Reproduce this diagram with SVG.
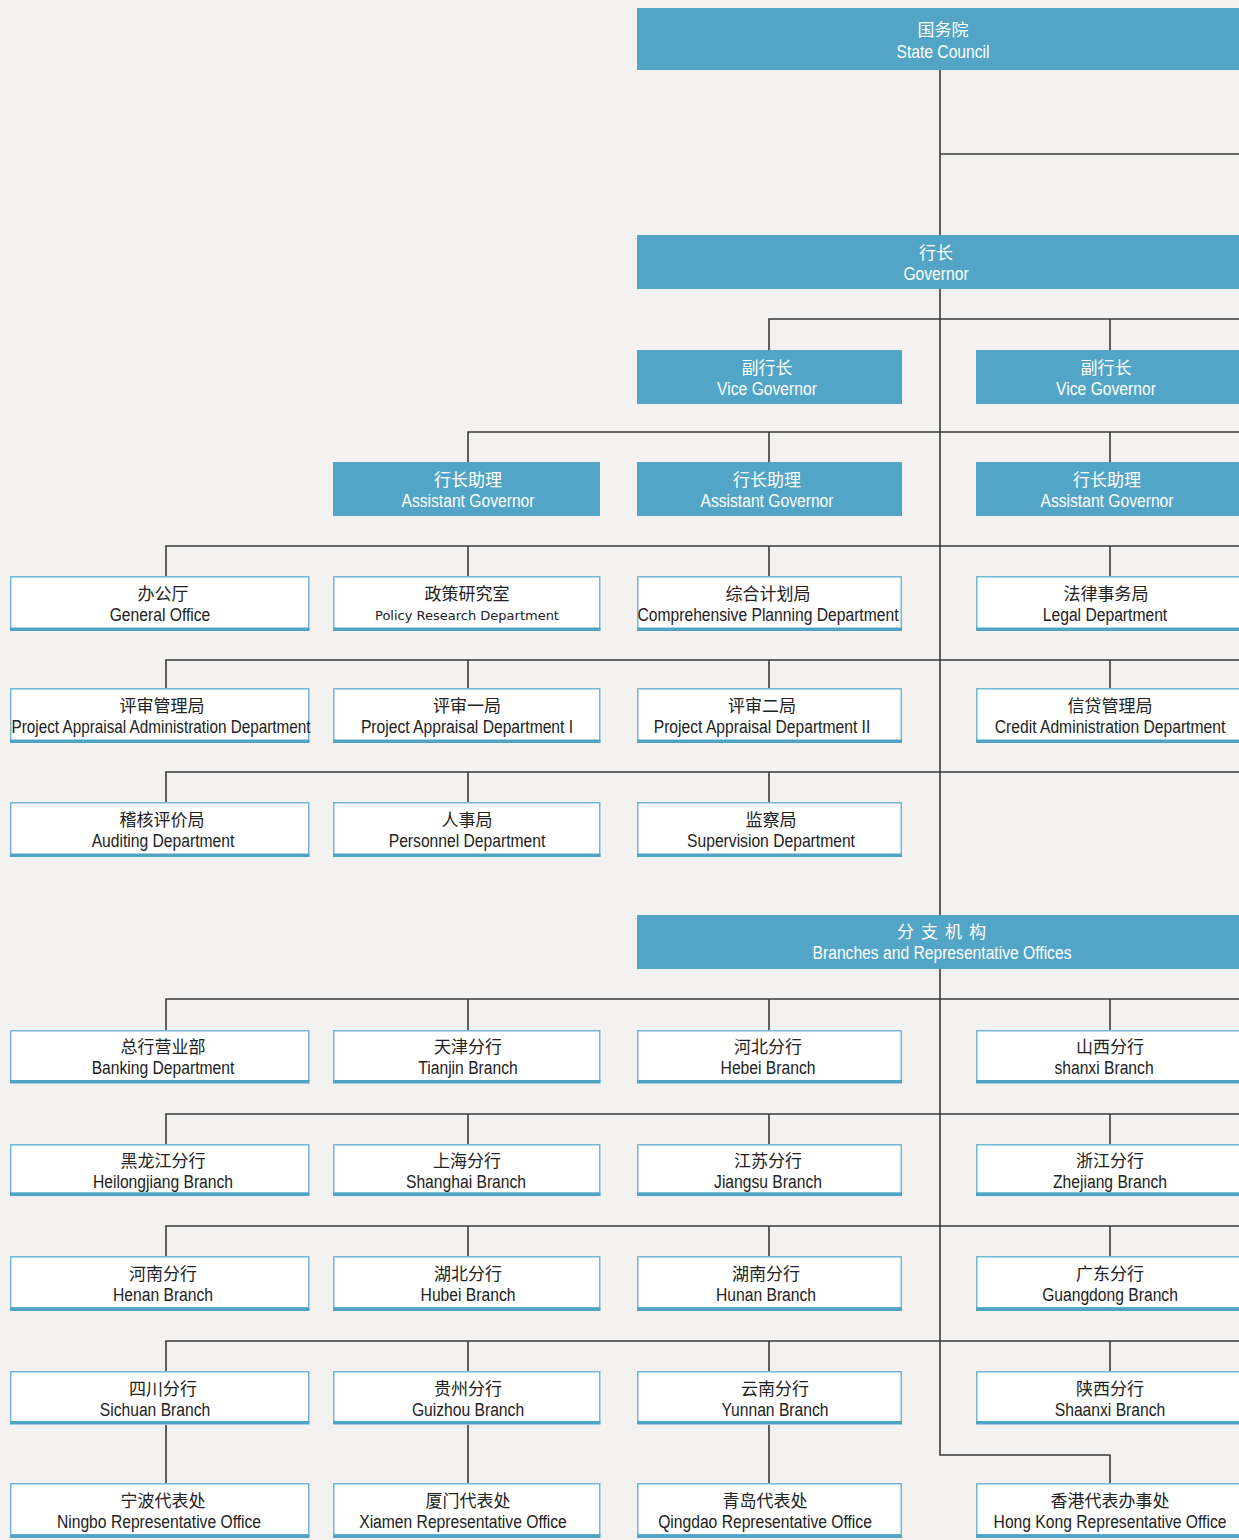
<svg xmlns="http://www.w3.org/2000/svg" width="1239" height="1540" viewBox="0 0 1239 1540">
<style>
.bg{fill:#f3f2f0}
.blue{fill:#52a5c6}
.wbox{fill:#ffffff;stroke:#72b8d6;stroke-width:1.5}
.bar{fill:#4fa3c4}
.cn{font-family:"Noto Sans CJK SC","Noto Sans",sans-serif;font-size:17px;text-anchor:middle}
.en{font-family:"Liberation Sans",Arial,sans-serif;font-size:18px;text-anchor:middle}
.sm{font-family:"DejaVu Sans",sans-serif;font-size:13px;text-anchor:middle}
.dk{fill:#222222}
.wt{fill:#ffffff}
.ln{fill:none;stroke:#3a3a3a;stroke-width:1.6}
</style>
<rect class="bg" x="0" y="0" width="1239" height="1540"/>

<g id="connectors">
<path class="ln" d="M940,70 V1455 H1110 V1483"/>
<path class="ln" d="M940,154 H1245"/>
<path class="ln" d="M769,350 V319 H1245 M1110,319 V350"/>
<path class="ln" d="M468,462 V432 H1245 M769,432 V462 M1110,432 V462"/>
<path class="ln" d="M166,576 V546 H1245 M468,546 V576 M769,546 V576 M1110,546 V576"/>
<path class="ln" d="M166,688 V660 H1245 M468,660 V688 M769,660 V688 M1110,660 V688"/>
<path class="ln" d="M166,802 V772 H1245 M468,772 V802 M769,772 V802"/>
<path class="ln" d="M166,1030 V999 H1245 M468,999 V1030 M769,999 V1030 M1110,999 V1030"/>
<path class="ln" d="M166,1144 V1114 H1245 M468,1114 V1144 M769,1114 V1144 M1110,1114 V1144"/>
<path class="ln" d="M166,1256 V1226 H1245 M468,1226 V1256 M769,1226 V1256 M1110,1226 V1256"/>
<path class="ln" d="M166,1371 V1341 H1245 M468,1341 V1371 M769,1341 V1371 M1110,1341 V1371"/>
<path class="ln" d="M166,1425 V1483 M468,1425 V1483 M769,1425 V1483"/>
</g>

<g id="state-council">
<rect class="blue" x="637" y="8" width="620" height="62"/>
<text class="cn wt" x="943" y="36">国务院</text>
<text class="en wt" transform="translate(943,58) scale(0.87,1)">State Council</text>
</g>
<g id="governor">
<rect class="blue" x="637" y="235" width="620" height="54"/>
<text class="cn wt" x="936" y="259">行长</text>
<text class="en wt" transform="translate(936,280) scale(0.87,1)">Governor</text>
</g>
<g id="vice-governor-1">
<rect class="blue" x="637" y="350" width="265" height="54"/>
<text class="cn wt" x="767" y="374">副行长</text>
<text class="en wt" transform="translate(767,395) scale(0.87,1)">Vice Governor</text>
</g>
<g id="vice-governor-2">
<rect class="blue" x="976" y="350" width="280" height="54"/>
<text class="cn wt" x="1106" y="374">副行长</text>
<text class="en wt" transform="translate(1106,395) scale(0.87,1)">Vice Governor</text>
</g>
<g id="assistant-governor-1">
<rect class="blue" x="333" y="462" width="267" height="54"/>
<text class="cn wt" x="468" y="486">行长助理</text>
<text class="en wt" transform="translate(468,507) scale(0.87,1)">Assistant Governor</text>
</g>
<g id="assistant-governor-2">
<rect class="blue" x="637" y="462" width="265" height="54"/>
<text class="cn wt" x="767" y="486">行长助理</text>
<text class="en wt" transform="translate(767,507) scale(0.87,1)">Assistant Governor</text>
</g>
<g id="assistant-governor-3">
<rect class="blue" x="976" y="462" width="280" height="54"/>
<text class="cn wt" x="1107" y="486">行长助理</text>
<text class="en wt" transform="translate(1107,507) scale(0.87,1)">Assistant Governor</text>
</g>

<g id="general-office">
<rect class="wbox" x="10.75" y="576.75" width="298" height="52"/><rect class="bar" x="10" y="627.5" width="299.5" height="3.5"/>
<text class="cn dk" x="163" y="600">办公厅</text>
<text class="en dk" transform="translate(160,621) scale(0.87,1)">General Office</text>
</g>
<g id="policy-research">
<rect class="wbox" x="333.75" y="576.75" width="266" height="52"/><rect class="bar" x="333" y="627.5" width="267.5" height="3.5"/>
<text class="cn dk" x="467" y="600">政策研究室</text>
<text class="sm dk" x="467" y="620">Policy Research Department</text>
</g>
<g id="comprehensive-planning">
<rect class="wbox" x="637.75" y="576.75" width="263.5" height="52"/><rect class="bar" x="637" y="627.5" width="265" height="3.5"/>
<text class="cn dk" x="768" y="600">综合计划局</text>
<text class="en dk" transform="translate(768,621) scale(0.87,1)">Comprehensive Planning Department</text>
</g>
<g id="legal">
<rect class="wbox" x="976.75" y="576.75" width="280" height="52"/><rect class="bar" x="976" y="627.5" width="282" height="3.5"/>
<text class="cn dk" x="1106" y="600">法律事务局</text>
<text class="en dk" transform="translate(1105,621) scale(0.87,1)">Legal Department</text>
</g>

<g id="project-appraisal-admin">
<rect class="wbox" x="10.75" y="688.75" width="298" height="52"/><rect class="bar" x="10" y="739.5" width="299.5" height="3.5"/>
<text class="cn dk" x="162" y="712">评审管理局</text>
<text class="en dk" transform="translate(161,733) scale(0.85,1)">Project Appraisal Administration Department</text>
</g>
<g id="project-appraisal-1">
<rect class="wbox" x="333.75" y="688.75" width="266" height="52"/><rect class="bar" x="333" y="739.5" width="267.5" height="3.5"/>
<text class="cn dk" x="467" y="712">评审一局</text>
<text class="en dk" transform="translate(467,733) scale(0.87,1)">Project Appraisal Department I</text>
</g>
<g id="project-appraisal-2">
<rect class="wbox" x="637.75" y="688.75" width="263.5" height="52"/><rect class="bar" x="637" y="739.5" width="265" height="3.5"/>
<text class="cn dk" x="762" y="712">评审二局</text>
<text class="en dk" transform="translate(762,733) scale(0.87,1)">Project Appraisal Department II</text>
</g>
<g id="credit-admin">
<rect class="wbox" x="976.75" y="688.75" width="280" height="52"/><rect class="bar" x="976" y="739.5" width="282" height="3.5"/>
<text class="cn dk" x="1110" y="712">信贷管理局</text>
<text class="en dk" transform="translate(1110,733) scale(0.87,1)">Credit Administration Department</text>
</g>

<g id="auditing">
<rect class="wbox" x="10.75" y="802.75" width="298" height="52"/><rect class="bar" x="10" y="853.5" width="299.5" height="3.5"/>
<text class="cn dk" x="162" y="826">稽核评价局</text>
<text class="en dk" transform="translate(163,847) scale(0.87,1)">Auditing Department</text>
</g>
<g id="personnel">
<rect class="wbox" x="333.75" y="802.75" width="266" height="52"/><rect class="bar" x="333" y="853.5" width="267.5" height="3.5"/>
<text class="cn dk" x="467" y="826">人事局</text>
<text class="en dk" transform="translate(467,847) scale(0.87,1)">Personnel Department</text>
</g>
<g id="supervision">
<rect class="wbox" x="637.75" y="802.75" width="263.5" height="52"/><rect class="bar" x="637" y="853.5" width="265" height="3.5"/>
<text class="cn dk" x="771" y="826">监察局</text>
<text class="en dk" transform="translate(771,847) scale(0.87,1)">Supervision Department</text>
</g>

<g id="branches">
<rect class="blue" x="637" y="915" width="620" height="54"/>
<text class="cn wt" x="945" y="938" letter-spacing="7">分支机构</text>
<text class="en wt" transform="translate(942,959) scale(0.87,1)">Branches and Representative Offices</text>
</g>

<g id="banking-dept">
<rect class="wbox" x="10.75" y="1030.75" width="298" height="50"/><rect class="bar" x="10" y="1080" width="299.5" height="3.5"/>
<text class="cn dk" x="163" y="1053">总行营业部</text>
<text class="en dk" transform="translate(163,1074) scale(0.87,1)">Banking Department</text>
</g>
<g id="tianjin">
<rect class="wbox" x="333.75" y="1030.75" width="266" height="50"/><rect class="bar" x="333" y="1080" width="267.5" height="3.5"/>
<text class="cn dk" x="468" y="1053">天津分行</text>
<text class="en dk" transform="translate(468,1074) scale(0.87,1)">Tianjin Branch</text>
</g>
<g id="hebei">
<rect class="wbox" x="637.75" y="1030.75" width="263.5" height="50"/><rect class="bar" x="637" y="1080" width="265" height="3.5"/>
<text class="cn dk" x="768" y="1053">河北分行</text>
<text class="en dk" transform="translate(768,1074) scale(0.87,1)">Hebei Branch</text>
</g>
<g id="shanxi">
<rect class="wbox" x="976.75" y="1030.75" width="280" height="50"/><rect class="bar" x="976" y="1080" width="282" height="3.5"/>
<text class="cn dk" x="1110" y="1053">山西分行</text>
<text class="en dk" transform="translate(1104,1074) scale(0.87,1)">shanxi Branch</text>
</g>

<g id="heilongjiang">
<rect class="wbox" x="10.75" y="1144.75" width="298" height="48.5"/><rect class="bar" x="10" y="1192.5" width="299.5" height="3.5"/>
<text class="cn dk" x="163" y="1167">黑龙江分行</text>
<text class="en dk" transform="translate(163,1188) scale(0.87,1)">Heilongjiang Branch</text>
</g>
<g id="shanghai">
<rect class="wbox" x="333.75" y="1144.75" width="266" height="48.5"/><rect class="bar" x="333" y="1192.5" width="267.5" height="3.5"/>
<text class="cn dk" x="467" y="1167">上海分行</text>
<text class="en dk" transform="translate(466,1188) scale(0.87,1)">Shanghai Branch</text>
</g>
<g id="jiangsu">
<rect class="wbox" x="637.75" y="1144.75" width="263.5" height="48.5"/><rect class="bar" x="637" y="1192.5" width="265" height="3.5"/>
<text class="cn dk" x="768" y="1167">江苏分行</text>
<text class="en dk" transform="translate(768,1188) scale(0.87,1)">Jiangsu Branch</text>
</g>
<g id="zhejiang">
<rect class="wbox" x="976.75" y="1144.75" width="280" height="48.5"/><rect class="bar" x="976" y="1192.5" width="282" height="3.5"/>
<text class="cn dk" x="1110" y="1167">浙江分行</text>
<text class="en dk" transform="translate(1110,1188) scale(0.87,1)">Zhejiang Branch</text>
</g>

<g id="henan">
<rect class="wbox" x="10.75" y="1256.75" width="298" height="51"/><rect class="bar" x="10" y="1307.5" width="299.5" height="3.5"/>
<text class="cn dk" x="163" y="1280">河南分行</text>
<text class="en dk" transform="translate(163,1301) scale(0.87,1)">Henan Branch</text>
</g>
<g id="hubei">
<rect class="wbox" x="333.75" y="1256.75" width="266" height="51"/><rect class="bar" x="333" y="1307.5" width="267.5" height="3.5"/>
<text class="cn dk" x="468" y="1280">湖北分行</text>
<text class="en dk" transform="translate(468,1301) scale(0.87,1)">Hubei Branch</text>
</g>
<g id="hunan">
<rect class="wbox" x="637.75" y="1256.75" width="263.5" height="51"/><rect class="bar" x="637" y="1307.5" width="265" height="3.5"/>
<text class="cn dk" x="766" y="1280">湖南分行</text>
<text class="en dk" transform="translate(766,1301) scale(0.87,1)">Hunan Branch</text>
</g>
<g id="guangdong">
<rect class="wbox" x="976.75" y="1256.75" width="280" height="51"/><rect class="bar" x="976" y="1307.5" width="282" height="3.5"/>
<text class="cn dk" x="1110" y="1280">广东分行</text>
<text class="en dk" transform="translate(1110,1301) scale(0.87,1)">Guangdong Branch</text>
</g>

<g id="sichuan">
<rect class="wbox" x="10.75" y="1371.75" width="298" height="50"/><rect class="bar" x="10" y="1421" width="299.5" height="3.5"/>
<text class="cn dk" x="163" y="1395">四川分行</text>
<text class="en dk" transform="translate(155,1416) scale(0.87,1)">Sichuan Branch</text>
</g>
<g id="guizhou">
<rect class="wbox" x="333.75" y="1371.75" width="266" height="50"/><rect class="bar" x="333" y="1421" width="267.5" height="3.5"/>
<text class="cn dk" x="468" y="1395">贵州分行</text>
<text class="en dk" transform="translate(468,1416) scale(0.87,1)">Guizhou Branch</text>
</g>
<g id="yunnan">
<rect class="wbox" x="637.75" y="1371.75" width="263.5" height="50"/><rect class="bar" x="637" y="1421" width="265" height="3.5"/>
<text class="cn dk" x="775" y="1395">云南分行</text>
<text class="en dk" transform="translate(775,1416) scale(0.87,1)">Yunnan Branch</text>
</g>
<g id="shaanxi">
<rect class="wbox" x="976.75" y="1371.75" width="280" height="50"/><rect class="bar" x="976" y="1421" width="282" height="3.5"/>
<text class="cn dk" x="1110" y="1395">陕西分行</text>
<text class="en dk" transform="translate(1110,1416) scale(0.87,1)">Shaanxi Branch</text>
</g>

<g id="ningbo">
<rect class="wbox" x="10.75" y="1483.75" width="298" height="51"/><rect class="bar" x="10" y="1534.5" width="299.5" height="3.5"/>
<text class="cn dk" x="163" y="1507">宁波代表处</text>
<text class="en dk" transform="translate(159,1528) scale(0.87,1)">Ningbo Representative Office</text>
</g>
<g id="xiamen">
<rect class="wbox" x="333.75" y="1483.75" width="266" height="51"/><rect class="bar" x="333" y="1534.5" width="267.5" height="3.5"/>
<text class="cn dk" x="468" y="1507">厦门代表处</text>
<text class="en dk" transform="translate(463,1528) scale(0.87,1)">Xiamen Representative Office</text>
</g>
<g id="qingdao">
<rect class="wbox" x="637.75" y="1483.75" width="263.5" height="51"/><rect class="bar" x="637" y="1534.5" width="265" height="3.5"/>
<text class="cn dk" x="765" y="1507">青岛代表处</text>
<text class="en dk" transform="translate(765,1528) scale(0.87,1)">Qingdao Representative Office</text>
</g>
<g id="hong-kong">
<rect class="wbox" x="976.75" y="1483.75" width="280" height="51"/><rect class="bar" x="976" y="1534.5" width="282" height="3.5"/>
<text class="cn dk" x="1110" y="1507">香港代表办事处</text>
<text class="en dk" transform="translate(1110,1528) scale(0.87,1)">Hong Kong Representative Office</text>
</g>
</svg>
